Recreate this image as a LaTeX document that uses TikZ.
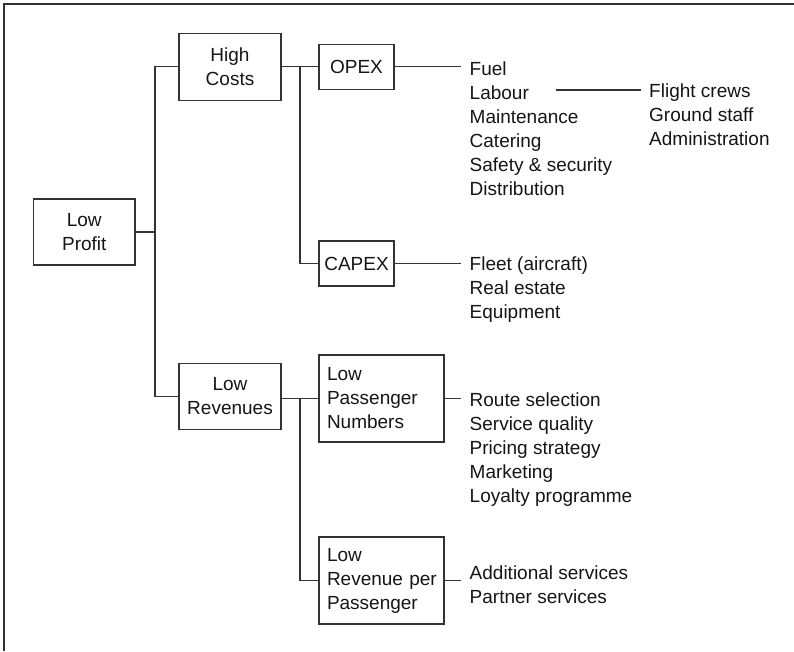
\documentclass[tikz,border=0pt]{standalone}
\usepackage{fontspec}
\setmainfont{Liberation Sans}
\definecolor{linegray}{HTML}{333333}
\definecolor{ink}{HTML}{151515}
\begin{document}
\begin{tikzpicture}[x=1pt,y=-1pt,
  every node/.style={text=ink, font=\fontsize{19}{24}\selectfont},
  cbox/.style={draw=linegray, line width=1.3pt, inner sep=0pt, align=center},
  lbox/.style={draw=linegray, line width=1.3pt, inner sep=0pt, align=left,
    text width=109pt, minimum width=125pt, minimum height=87pt},
  lst/.style={anchor=north west, inner sep=0pt, align=left},
  conn/.style={draw=linegray, line width=1.4pt},
  frame/.style={draw=linegray, line width=1.8pt}]
\useasboundingbox (0,0) rectangle (794,651);

% open frame: left and top edges only
\draw[frame] (4.3,651) -- (4.3,4.3) -- (794,4.3);

% boxes
\node[cbox, minimum width=101.5pt, minimum height=66pt] (lp) at (84.25,232) {Low\\Profit};
\node[cbox, minimum width=102pt, minimum height=67pt] (hc) at (230,66.7) {High\\Costs};
\node[cbox, minimum width=102pt, minimum height=66pt] (lr) at (230,396.3) {Low\\Revenues};
\node[cbox, minimum width=75pt, minimum height=45pt] (opex) at (356.5,66.7) {OPEX};
\node[cbox, minimum width=75pt, minimum height=45pt] (capex) at (356.5,263.5) {CAPEX};
\node[lbox] (lpn) at (381.5,398.5) {Low\\Passenger\\Numbers};
\node[lbox] (lrpp) at (381.5,580.5) {Low\\\mbox{Revenue per}\\Passenger};

% item lists
\node[lst] (opexlist) at (469.5,61.5) {Fuel\\Labour\\Maintenance\\Catering\\Safety \& security\\Distribution};
\node[lst] (crewlist) at (649,83.3) {Flight crews\\Ground staff\\Administration};
\node[lst] (capexlist) at (469.5,257) {Fleet (aircraft)\\Real estate\\Equipment};
\node[lst] (paxlist) at (469.5,392.5) {Route selection\\Service quality\\Pricing strategy\\Marketing\\Loyalty programme};
\node[lst] (yieldlist) at (469.5,566) {Additional services\\Partner services};

% junctions and free line ends
\coordinate (j1) at (155,232);
\coordinate (j2) at (300,66.7);
\coordinate (j3) at (300,398.5);
\coordinate (opexend) at (461,66.7);
\coordinate (capexend) at (461,263.5);
\coordinate (paxend) at (461,398.5);
\coordinate (yieldend) at (461,580.5);
\coordinate (labourstart) at (556,90);
\coordinate (labourend) at (641,90);

% tree connectors
\draw[conn] (lp.east) -- (j1);
\draw[conn] (hc.west) -| (j1) |- (lr.west);
\draw[conn] (hc.east) -- (opex.west);
\draw[conn] (j2) |- (capex.west);
\draw[conn] (lr.east |- lpn.west) -- (lpn.west);
\draw[conn] (j3) |- (lrpp.west);
\draw[conn] (opex.east) -- (opexend);
\draw[conn] (capex.east) -- (capexend);
\draw[conn] (lpn.east) -- (paxend);
\draw[conn] (lrpp.east) -- (yieldend);
\draw[conn] (labourstart) -- (labourend);
\end{tikzpicture}
\end{document}
